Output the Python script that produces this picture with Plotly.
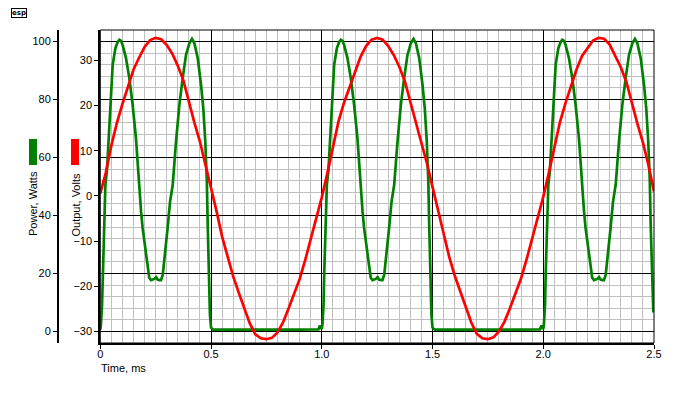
import plotly.graph_objects as go

# ---------------- data ----------------
# Output voltage (red), volts, sampled every 0.025 ms
out_time_ms = [
    0.000, 0.025, 0.050, 0.075, 0.100, 0.125, 0.150, 0.175, 0.200, 0.225,
    0.250, 0.275, 0.300, 0.325, 0.350, 0.375, 0.400, 0.425, 0.450, 0.475,
    0.500, 0.525, 0.550, 0.575, 0.600, 0.625, 0.650, 0.675, 0.700, 0.725,
    0.750, 0.775, 0.800, 0.825, 0.850, 0.875, 0.900, 0.925, 0.950, 0.975,
    1.000, 1.025, 1.050, 1.075, 1.100, 1.125, 1.150, 1.175, 1.200, 1.225,
    1.250, 1.275, 1.300, 1.325, 1.350, 1.375, 1.400, 1.425, 1.450, 1.475,
    1.500, 1.525, 1.550, 1.575, 1.600, 1.625, 1.650, 1.675, 1.700, 1.725,
    1.750, 1.775, 1.800, 1.825, 1.850, 1.875, 1.900, 1.925, 1.950, 1.975,
    2.000, 2.025, 2.050, 2.075, 2.100, 2.125, 2.150, 2.175, 2.200, 2.225,
    2.250, 2.275, 2.300, 2.325, 2.350, 2.375, 2.400, 2.425, 2.450, 2.475,
    2.500,
]
out_volts = [
    0.6, 5.2, 11.2, 16.2, 20.4, 24.2, 28.0, 30.6, 33.0, 34.5,
    35.0, 34.7, 33.4, 31.5, 28.8, 25.6, 20.6, 16.2, 12.0, 7.0,
    1.8, -3.4, -9.0, -13.5, -17.8, -21.4, -25.0, -28.2, -30.6, -31.5,
    -31.7, -31.4, -30.2, -28.0, -24.9, -21.7, -18.4, -14.2, -9.6, -4.9,
    -0.3, 5.0, 11.0, 16.4, 20.6, 24.0, 27.8, 30.8, 33.2, 34.6,
    35.0, 34.6, 33.2, 31.2, 28.6, 25.4, 20.8, 16.4, 12.2, 7.2,
    2.0, -3.2, -8.8, -13.4, -17.6, -21.2, -24.8, -28.0, -30.5, -31.5,
    -31.7, -31.3, -30.0, -27.8, -24.8, -21.6, -18.2, -14.0, -9.4, -4.8,
    -0.2, 5.1, 11.1, 16.3, 20.5, 24.4, 28.0, 31.0, 32.6, 34.4,
    35.0, 34.8, 33.5, 31.0, 28.5, 25.3, 20.5, 16.0, 11.8, 6.8,
    1.0,
]

# Power (green), watts
power_time_ms = [
    0.000, 0.003, 0.008, 0.011, 0.014, 0.018, 0.023, 0.030, 0.036, 0.041,
    0.048, 0.056, 0.068, 0.078, 0.086, 0.094, 0.101, 0.116, 0.131, 0.146,
    0.161, 0.173, 0.184, 0.191, 0.199, 0.206, 0.214, 0.221, 0.229, 0.237,
    0.244, 0.252, 0.259, 0.267, 0.274, 0.282, 0.289, 0.297, 0.304, 0.315,
    0.327, 0.342, 0.357, 0.372, 0.387, 0.402, 0.414, 0.425, 0.440, 0.455,
    0.465, 0.474, 0.481, 0.485, 0.490, 0.495, 0.500, 0.510, 0.600, 0.700,
    0.800, 0.900, 0.985, 0.992,
    1.000, 1.003, 1.008, 1.011, 1.014, 1.018, 1.023, 1.030, 1.036, 1.041,
    1.048, 1.056, 1.068, 1.078, 1.086, 1.094, 1.101, 1.116, 1.131, 1.146,
    1.161, 1.173, 1.184, 1.191, 1.199, 1.206, 1.214, 1.221, 1.229, 1.237,
    1.244, 1.252, 1.259, 1.267, 1.274, 1.282, 1.289, 1.297, 1.304, 1.315,
    1.327, 1.342, 1.357, 1.372, 1.387, 1.402, 1.414, 1.425, 1.440, 1.455,
    1.465, 1.474, 1.481, 1.485, 1.490, 1.495, 1.500, 1.510, 1.600, 1.700,
    1.800, 1.900, 1.985, 1.992,
    2.000, 2.003, 2.008, 2.011, 2.014, 2.018, 2.023, 2.030, 2.036, 2.041,
    2.048, 2.056, 2.068, 2.078, 2.086, 2.094, 2.101, 2.116, 2.131, 2.146,
    2.161, 2.173, 2.184, 2.191, 2.199, 2.206, 2.214, 2.221, 2.229, 2.237,
    2.244, 2.252, 2.259, 2.267, 2.274, 2.282, 2.289, 2.297, 2.304, 2.315,
    2.327, 2.342, 2.357, 2.372, 2.387, 2.402, 2.414, 2.425, 2.440, 2.455,
    2.465, 2.474, 2.481, 2.485, 2.490, 2.497,
]
power_watts = [
    0.6, 2.4, 9.3, 20.0, 29.0, 43.7, 50.6, 55.5, 64.0, 73.6,
    84.0, 92.0, 97.7, 99.8, 100.6, 100.2, 98.8, 94.3, 87.4, 78.2,
    66.7, 51.8, 41.4, 35.7, 31.1, 26.5, 21.9, 18.5, 17.7, 17.8,
    18.1, 18.7, 17.9, 17.7, 17.7, 19.6, 24.2, 29.9, 35.7, 44.8,
    50.6, 65.6, 78.2, 87.4, 95.4, 99.4, 100.9, 99.4, 94.3, 85.0,
    77.0, 65.6, 51.8, 36.8, 19.6, 5.8, 1.3, 0.6, 0.6, 0.7,
    0.6, 0.6, 0.7, 2.0,
    0.8, 2.4, 9.3, 20.0, 29.0, 43.7, 50.6, 55.5, 64.0, 73.6,
    84.0, 92.0, 97.7, 99.8, 100.6, 100.2, 98.8, 94.3, 87.4, 78.2,
    66.7, 51.8, 41.4, 35.7, 31.1, 26.5, 21.9, 18.5, 17.7, 17.8,
    18.1, 18.7, 17.9, 17.7, 17.7, 19.6, 24.2, 29.9, 35.7, 44.8,
    50.6, 65.6, 78.2, 87.4, 95.4, 99.4, 100.9, 99.4, 94.3, 85.0,
    77.0, 65.6, 51.8, 36.8, 19.6, 5.8, 1.3, 0.6, 0.6, 0.7,
    0.6, 0.6, 0.7, 2.0,
    0.8, 2.4, 9.3, 20.0, 29.0, 43.7, 50.6, 55.5, 64.0, 73.6,
    84.0, 92.0, 97.7, 99.8, 100.6, 100.2, 98.8, 94.3, 87.4, 78.2,
    66.7, 51.8, 41.4, 35.7, 31.1, 26.5, 21.9, 18.5, 17.7, 17.8,
    18.1, 18.7, 17.9, 17.7, 17.7, 19.6, 24.2, 29.9, 35.7, 44.8,
    50.6, 65.6, 78.2, 87.4, 95.4, 99.4, 100.9, 99.4, 94.3, 85.0,
    77.0, 65.6, 51.8, 36.8, 19.6, 6.5,
]

time_tick_vals = [0, 0.5, 1.0, 1.5, 2.0, 2.5]
time_tick_text = ["0", "0.5", "1.0", "1.5", "2.0", "2.5"]
power_tick_vals = [0, 20, 40, 60, 80, 100]
volt_tick_vals = [-30, -20, -10, 0, 10, 20, 30]

# ---------------- layout geometry (screen pixels; page has an 8px body offset) ----------------
W, H = 700, 400
OFF = 8
SCR_L, SCR_R, SCR_T, SCR_B = 100.3, 654.0, 30.0, 343.0   # plot area on screen
ML = 2
MT = SCR_T - OFF
MR = W - (SCR_R - OFF)
MB = H - (SCR_B - OFF)
PW = W - ML - MR
PH = H - MT - MB


def px(x):
    return (x - OFF - ML) / PW


def py(y):
    return 1 - (y - OFF - MT) / PH


FONT = dict(family="Liberation Sans, Arial, sans-serif", size=11, color="black")
RED = "#ff0000"
GREEN = "#008000"

fig = go.Figure()
fig.add_trace(go.Scatter(x=out_time_ms, y=out_volts, mode="lines",
                         line=dict(color=RED, width=2.7), yaxis="y2",
                         showlegend=False))
fig.add_trace(go.Scatter(x=power_time_ms, y=power_watts, mode="lines",
                         line=dict(color=GREEN, width=2.7), yaxis="y",
                         showlegend=False))

fig.update_layout(
    width=W, height=H,
    margin=dict(l=ML, r=MR, t=MT, b=MB, autoexpand=False),
    paper_bgcolor="white", plot_bgcolor="white",
    font=FONT,
    xaxis=dict(
        domain=[px(SCR_L), 1], range=[0, 2.5],
        tickvals=time_tick_vals, ticktext=time_tick_text,
        showgrid=True, gridcolor="black", gridwidth=1, zeroline=False,
        minor=dict(dtick=0.05, tick0=0, showgrid=True, gridcolor="#c0c0c0",
                   gridwidth=1, ticks=""),
        showline=True, linecolor="black", linewidth=2,
        ticks="outside", ticklen=4, tickcolor="black", tickwidth=1,
        ticklabelstandoff=-4,
        anchor="y",
    ),
    yaxis=dict(
        range=[-4, 104], tickvals=power_tick_vals,
        showgrid=True, gridcolor="black", gridwidth=1, zeroline=False,
        minor=dict(dtick=4, tick0=0, showgrid=True, gridcolor="#c0c0c0",
                   gridwidth=1, ticks=""),
        anchor="free", position=px(58), side="left",
        showline=True, linecolor="black", linewidth=2,
        ticks="outside", ticklen=4, tickcolor="black",
    ),
    yaxis2=dict(
        range=[-32.54, 36.74], tickvals=volt_tick_vals,
        overlaying="y", anchor="x", side="left",
        showgrid=False, zeroline=False,
        showline=True, linecolor="black", linewidth=2,
        ticks="outside", ticklen=4, tickcolor="black",
    ),
    shapes=[
        dict(type="rect", xref="x domain", yref="y domain", x0=0, x1=1, y0=0, y1=1,
             line=dict(color="black", width=1), fillcolor="rgba(0,0,0,0)", layer="above"),
        dict(type="rect", xref="paper", yref="paper", x0=px(29), x1=px(37),
             y0=py(165), y1=py(139), fillcolor=GREEN, line=dict(width=0)),
        dict(type="rect", xref="paper", yref="paper", x0=px(71), x1=px(79),
             y0=py(165), y1=py(139), fillcolor=RED, line=dict(width=0)),
    ],
    annotations=[
        dict(text="Power, Watts", xref="paper", yref="paper", x=px(33), y=py(204),
             textangle=-90, showarrow=False, xanchor="center", yanchor="middle",
             font=FONT),
        dict(text="Output, Volts", xref="paper", yref="paper", x=px(75.5), y=py(205),
             textangle=-90, showarrow=False, xanchor="center", yanchor="middle",
             font=FONT),
        dict(text="Time, ms", xref="paper", yref="paper", x=px(99), y=py(368),
             showarrow=False, xanchor="left", yanchor="middle", font=FONT),
        dict(text="<b>esp</b>", xref="paper", yref="paper", x=px(19), y=py(13),
             showarrow=False, xanchor="center", yanchor="middle",
             font=dict(family="DejaVu Sans", size=7, color="black"),
             bordercolor="black", borderwidth=1, borderpad=0),
    ],
)

fig.write_html("out.html")
